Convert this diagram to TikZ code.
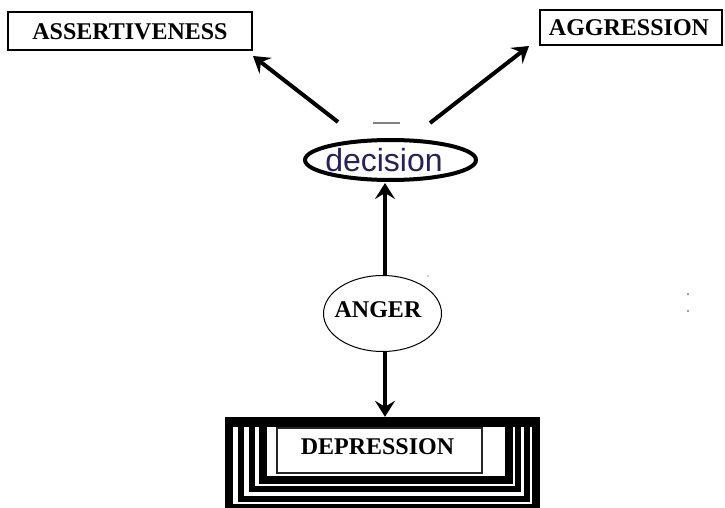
\documentclass[tikz,border=0pt]{standalone}
\usepackage{fontspec}
\setmainfont{Liberation Serif}
\newfontfamily\sansf{Liberation Sans}
\usetikzlibrary{arrows.meta,shapes.geometric}
\definecolor{decblue}{RGB}{40,32,96}
\begin{document}
\begin{tikzpicture}[x=1pt,y=-1pt,
  lbl/.style={font=\fontsize{24}{24}\selectfont\bfseries, inner sep=0pt},
  labbox/.style={draw, line width=1.3pt, inner sep=0pt},
  arr/.style={line width=4pt, -{Stealth[length=16pt,width=20pt,inset=6pt]}},
  band/.style={draw=black}]
\useasboundingbox (0,0) rectangle (725,508);
\clip (0,0) rectangle (725,508);
\fill[white] (0,0) rectangle (725,508);

% top boxes
\node[labbox, minimum width=244pt, minimum height=38pt] (assertbox) at (130,31) {};
\node[lbl] (assert) at (130,32) {ASSERTIVENESS};
\node[labbox, minimum width=182pt, minimum height=35pt] (aggrbox) at (631,27.5) {};
\node[lbl] (aggr) at (629,28) {AGGRESSION};

% decision ellipse
\node[ellipse, draw, line width=4pt, minimum width=171pt, minimum height=40pt, inner sep=0pt] (decision) at (390.5,160) {};
\node[font=\sansf\fontsize{32}{32}\selectfont, text=decblue, inner sep=0pt] (dectext) at (384,160.5) {decision};

% anger ellipse
\node[ellipse, draw, line width=1pt, minimum width=118pt, minimum height=76pt, inner sep=0pt] (anger) at (382.5,313.5) {};
\node[lbl] (angertext) at (378,310) {ANGER};

% depression frame
\node[inner sep=0pt, minimum width=314pt, minimum height=91pt] (frame) at (382,462.5) {};
\draw[band, line width=8pt] (229,421) rectangle (535.5,508);
\draw[band, line width=6pt] (240.5,421) rectangle (527,498.5);
\draw[band, line width=6pt] (252,421) rectangle (518,489);
\draw[band, line width=8pt] (263,421) rectangle (509,479.5);
\fill[black] (225,417) rectangle (539.5,427);
\node[draw=black!85, line width=1.2pt, fill=white, minimum width=205pt, minimum height=45pt, inner sep=0pt] (depbox) at (379.5,450.5) {};
\node[lbl] (dep) at (377.5,446.5) {DEPRESSION};

% connectors
\coordinate (ltail) at (338,122);
\coordinate (ltip) at (253,56);
\coordinate (rtail) at (430,123);
\coordinate (rtip) at (529,46);
\draw[arr] (ltail) -- (ltip);
\draw[arr] (rtail) -- (rtip);
\draw[arr] (anger.north -| 385,0) -- (385,183);
\draw[arr] (385,352) -- (frame.north -| 385,0);

% small marks
\draw[gray, line width=1.5pt] (373,123) -- (400,123);
\fill[gray] (688,294) circle (1.1pt);
\fill[gray] (688,311) circle (1.1pt);
\fill[gray!70] (428,276) circle (0.8pt);
\end{tikzpicture}
\end{document}
